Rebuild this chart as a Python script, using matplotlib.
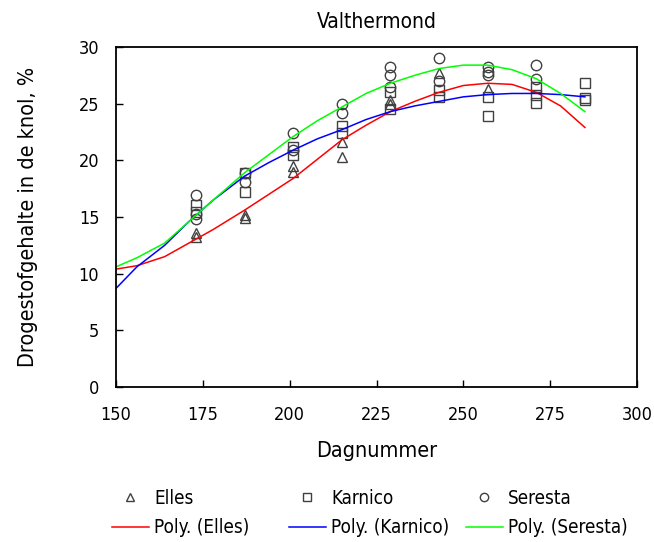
import numpy as np
import matplotlib
matplotlib.use("Agg")
import matplotlib.pyplot as plt
from matplotlib.lines import Line2D

plt.rcParams['font.family'] = ['Liberation Sans Narrow', 'DejaVu Sans']
plt.rcParams['font.stretch'] = 'condensed'

# measured points (day number, dry matter %)
elles_day = [173, 173, 187, 187, 201, 201, 215, 215, 229, 229, 243, 257]
elles_dm = [13.6, 13.2, 15.2, 14.9, 19.5, 19.0, 21.6, 20.3, 25.3, 25.0, 27.7, 26.3]

karnico_day = [173, 173, 187, 187, 201, 201, 215, 215, 229, 229, 243, 243,
               257, 257, 271, 271, 271, 285, 285, 285]
karnico_dm = [16.1, 15.4, 18.9, 17.2, 21.2, 20.5, 23.0, 22.4, 26.0, 24.5, 26.2, 25.6,
              25.6, 23.9, 26.5, 25.8, 25.1, 26.8, 25.5, 25.3]

seresta_day = [173, 173, 173, 187, 187, 201, 201, 215, 215, 229, 229, 229,
               243, 243, 257, 257, 257, 271, 271]
seresta_dm = [16.9, 15.3, 14.8, 18.9, 18.1, 22.4, 20.9, 25.0, 24.2, 28.2, 27.5, 26.5,
              29.0, 27.0, 28.2, 27.8, 27.5, 28.4, 27.2]

# polynomial trend lines
trend_day = [150, 156, 164, 171, 178, 187, 194, 201, 208, 215, 222, 229, 236, 243,
             250, 257, 264, 271, 278, 285]
trend_elles = [10.4, 10.7, 11.5, 12.7, 13.9, 15.6, 17.0, 18.4, 20.1, 21.8, 23.1, 24.3,
               25.2, 26.0, 26.6, 26.8, 26.7, 26.0, 24.8, 22.9]
trend_karnico = [8.7, 10.6, 12.5, 14.6, 16.5, 18.6, 19.8, 20.9, 21.9, 22.7, 23.6, 24.3,
                 24.8, 25.2, 25.6, 25.8, 25.9, 25.9, 25.8, 25.6]
trend_seresta = [10.6, 11.4, 12.7, 14.6, 16.5, 18.9, 20.5, 22.1, 23.5, 24.7, 25.9, 26.8,
                 27.5, 28.1, 28.4, 28.4, 28.0, 27.2, 25.9, 24.3]

names = ["Elles", "Karnico", "Seresta"]
markers = ["^", "s", "o"]
line_colors = ["#ff0000", "#0000ff", "#00ff00"]
mk_color = "#404040"

fig = plt.figure(figsize=(6.54, 5.42), dpi=100)
ax = fig.add_axes([0.1774, 0.286, 0.7966, 0.6273])

points = [(elles_day, elles_dm), (karnico_day, karnico_dm), (seresta_day, seresta_dm)]
for (xs, ys), m in zip(points, markers):
    size = 7 if m == "s" else 7.5
    ax.plot(xs, ys, linestyle="none", marker=m, markersize=size,
            markerfacecolor="none", markeredgecolor=mk_color, markeredgewidth=1)

trends = [trend_elles, trend_karnico, trend_seresta]
for ys, c in zip(trends, line_colors):
    ax.plot(trend_day, ys, color=c, linewidth=1.1)

ax.set_xlim(150, 300)
ax.set_ylim(0, 30)
ax.set_xticks(np.arange(150, 301, 25))
ax.set_yticks(np.arange(0, 31, 5))
ax.tick_params(direction="in", length=5, width=1, labelsize=13)
ax.tick_params(axis="y", pad=12)
ax.tick_params(axis="x", pad=14)
for side in ax.spines.values():
    side.set_linewidth(1.3)

ax.set_title("Valthermond", fontsize=15, pad=14)
ax.set_xlabel("Dagnummer", fontsize=15.5, labelpad=12)
ax.set_ylabel("Drogestofgehalte in de knol, %", fontsize=15.5, labelpad=29)

# legend: three columns of equal width, like the original
col_x = [112 / 654, 289 / 654, 466 / 654]
for i in range(3):
    h = [Line2D([], [], linestyle="none", marker=markers[i], markersize=6,
                markerfacecolor="none", markeredgecolor=mk_color),
         Line2D([], [], color=line_colors[i], linewidth=1.1)]
    lab = [names[i], "Poly. (%s)" % names[i]]
    fig.legend(h, lab, loc="upper left", bbox_to_anchor=(col_x[i], 0.098),
               frameon=False, fontsize=13.5, handlelength=1.97, handletextpad=0.27,
               labelspacing=0.55, borderpad=0, borderaxespad=0)

fig.savefig("out.png", dpi=100)
